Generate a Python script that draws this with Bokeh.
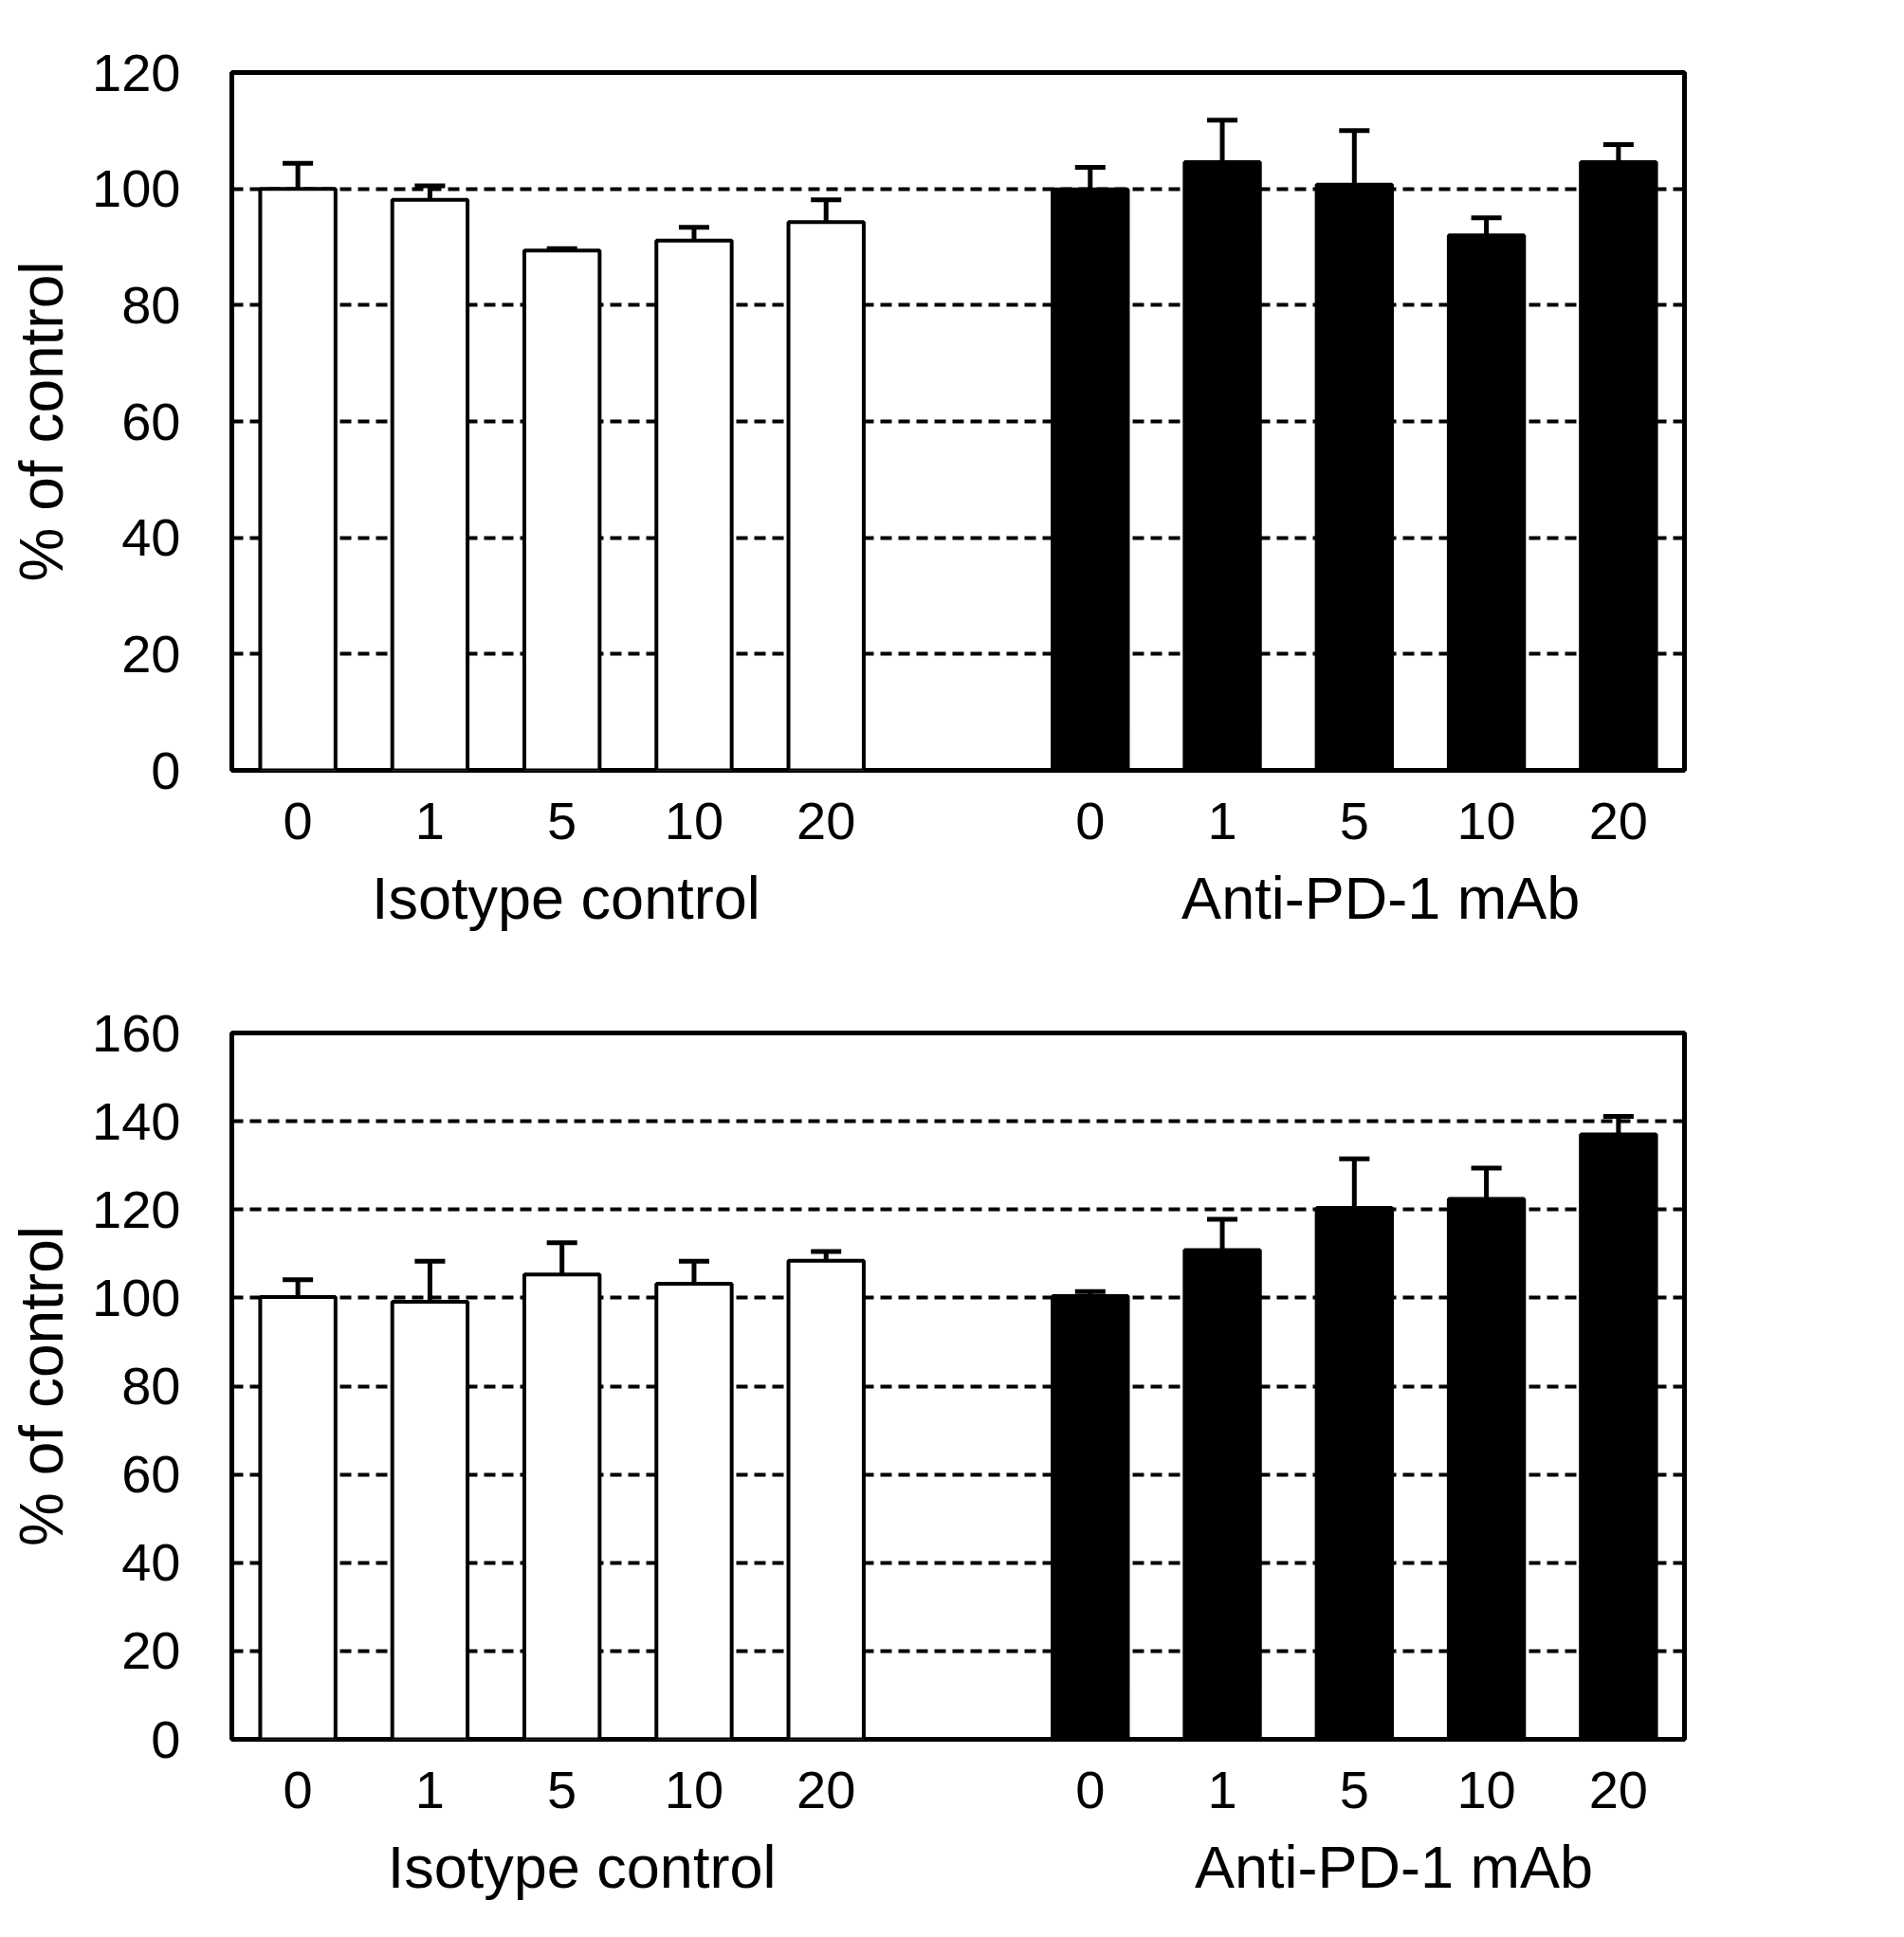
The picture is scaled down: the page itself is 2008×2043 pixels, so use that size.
from bokeh.plotting import figure
from bokeh.models import FixedTicker, LinearAxis
from bokeh.layouts import column
from bokeh.embed import file_html
from bokeh.resources import INLINE

FONT = "Liberation Sans"

# dose labels (ug/ml) for each group of five bars
doses = ["0", "1", "5", "10", "20"]
group_names = ["Isotype control", "Anti-PD-1 mAb"]

# panel A: mean % of control and upper error (SD)
a_iso_mean = [100.0, 98.1, 89.4, 91.1, 94.3]
a_iso_err = [4.4, 2.4, 0.3, 2.3, 3.8]
a_pd1_mean = [99.9, 104.6, 100.7, 92.0, 104.6]
a_pd1_err = [3.8, 7.2, 9.3, 3.0, 3.0]

# panel B
b_iso_mean = [100.2, 99.1, 105.3, 103.2, 108.4]
b_iso_err = [3.9, 9.2, 7.2, 5.1, 2.1]
b_pd1_mean = [100.4, 110.8, 120.4, 122.4, 137.0]
b_pd1_err = [1.0, 7.0, 11.1, 7.0, 4.1]


def style_axis(ax, size):
    ax.axis_line_color = None
    ax.major_tick_line_color = None
    ax.minor_tick_line_color = None
    ax.major_label_text_font = FONT
    ax.major_label_text_font_size = size
    ax.major_label_text_color = "black"


def make_panel(iso_mean, iso_err, pd1_mean, pd1_err, ymax, height, borders, group_x):
    left, right, top, bottom = borders
    p = figure(width=1990, height=height, x_range=(-0.5, 10.5), y_range=(0, ymax),
               output_backend="svg", toolbar_location=None,
               min_border_left=left, min_border_right=right,
               min_border_top=top, min_border_bottom=bottom)
    p.outline_line_color = "black"
    p.outline_line_width = 5

    x_iso = list(range(5))
    x_pd1 = [i + 6 for i in range(5)]

    # bars
    p.vbar(x=x_iso, top=iso_mean, width=0.57, fill_color="white",
           line_color="black", line_width=4)
    p.vbar(x=x_pd1, top=pd1_mean, width=0.57, fill_color="black",
           line_color="black", line_width=4)

    # upper error bars only
    xs = x_iso + x_pd1
    tops = iso_mean + pd1_mean
    errs = iso_err + pd1_err
    ends = [t + e for t, e in zip(tops, errs)]
    p.segment(x0=xs, y0=tops, x1=xs, y1=ends, line_color="black", line_width=5)
    p.segment(x0=[x - 0.115 for x in xs], y0=ends, x1=[x + 0.115 for x in xs], y1=ends,
              line_color="black", line_width=5)

    # dose axis and y axis
    p.yaxis.ticker = FixedTicker(ticks=list(range(0, ymax + 1, 20)))
    p.xaxis.ticker = FixedTicker(ticks=xs)
    p.xaxis.major_label_overrides = {x: d for x, d in zip(xs, doses + doses)}
    style_axis(p.xaxis[0], "56px")
    style_axis(p.yaxis[0], "56px")
    p.yaxis.major_label_standoff = 48
    p.xaxis.major_label_standoff = 28
    p.yaxis.axis_label = "% of control"
    p.yaxis.axis_label_text_font = FONT
    p.yaxis.axis_label_text_font_size = "64px"
    p.yaxis.axis_label_text_font_style = "normal"
    p.yaxis.axis_label_text_color = "black"
    p.yaxis.axis_label_standoff = 14

    # group names as a second axis below the doses
    grp = LinearAxis(ticker=FixedTicker(ticks=list(group_x)),
                     major_label_overrides=dict(zip(group_x, group_names)))
    style_axis(grp, "63px")
    grp.major_label_standoff = 18
    p.add_layout(grp, "below")

    p.xgrid.grid_line_color = None
    p.ygrid.grid_line_color = "black"
    p.ygrid.grid_line_width = 4
    p.ygrid.grid_line_dash = "12 7"
    return p


pa = make_panel(a_iso_mean, a_iso_err, a_pd1_mean, a_pd1_err, 120, 1010,
                (239, 210, 76, 198), (2.03, 8.2))
pb = make_panel(b_iso_mean, b_iso_err, b_pd1_mean, b_pd1_err, 160, 1015,
                (244, 214, 79, 191), (2.15, 8.3))

layout = column(pa, pb)
open("out.html", "w").write(file_html(layout, INLINE))
